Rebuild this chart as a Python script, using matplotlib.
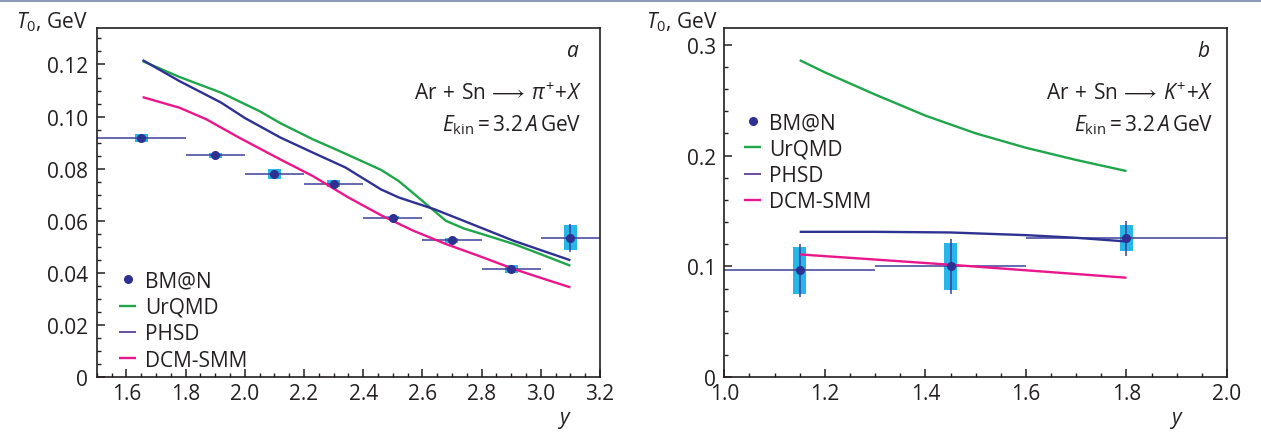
import matplotlib
matplotlib.use("Agg")
import matplotlib.pyplot as plt
from matplotlib.ticker import MultipleLocator, FixedLocator, FixedFormatter
from matplotlib.lines import Line2D

plt.rcParams["font.family"] = ["Open Sans", "DejaVu Sans"]
plt.rcParams["mathtext.fontset"] = "custom"
plt.rcParams["mathtext.rm"] = "Open Sans"
plt.rcParams["mathtext.it"] = "Open Sans:italic"
plt.rcParams["mathtext.bf"] = "Open Sans:bold"
plt.rcParams["mathtext.fallback"] = "stixsans"

# --- panel a: pi+ ---
pi_y = [1.65, 1.9, 2.1, 2.3, 2.5, 2.7, 2.9, 3.1]
pi_ylo = [1.5, 1.8, 2.0, 2.2, 2.4, 2.6, 2.8, 3.0]
pi_yhi = [1.8, 2.0, 2.2, 2.4, 2.6, 2.8, 3.0, 3.2]
pi_T = [0.0919, 0.0851, 0.0780, 0.0743, 0.0613, 0.0526, 0.0415, 0.0535]
pi_stat = [0.001, 0.0008, 0.001, 0.001, 0.0008, 0.001, 0.001, 0.0055]
pi_sys = [0.0016, 0.0011, 0.0018, 0.0013, 0.0005, 0.001, 0.0015, 0.0048]

pi_urqmd_x = [1.655, 1.78, 1.92, 2.05, 2.12, 2.23, 2.32, 2.46, 2.52, 2.58, 2.64, 2.68, 2.74, 2.82, 2.91, 3.0, 3.1]
pi_urqmd_T = [0.1213, 0.1152, 0.1092, 0.1021, 0.0975, 0.0913, 0.0868, 0.0796, 0.0753, 0.0696, 0.0638, 0.0600, 0.0571, 0.0543, 0.0511, 0.0472, 0.0428]
pi_phsd_x = [1.655, 1.78, 1.92, 2.0, 2.12, 2.23, 2.34, 2.46, 2.52, 2.64, 2.74, 2.91, 3.1]
pi_phsd_T = [0.1217, 0.1136, 0.1054, 0.0995, 0.0920, 0.0862, 0.0805, 0.0721, 0.0690, 0.0645, 0.0600, 0.0523, 0.0449]
pi_dcm_x = [1.655, 1.78, 1.87, 1.98, 2.12, 2.23, 2.35, 2.46, 2.57, 2.68, 2.79, 2.91, 3.02, 3.1]
pi_dcm_T = [0.1075, 0.1034, 0.0990, 0.0920, 0.0836, 0.0772, 0.0690, 0.0622, 0.0562, 0.0511, 0.0466, 0.0415, 0.0374, 0.0345]

# --- panel b: K+ ---
k_y = [1.15, 1.45, 1.8]
k_ylo = [1.0, 1.3, 1.6]
k_yhi = [1.3, 1.6, 2.0]
k_T = [0.0964, 0.100, 0.1255]
k_stat = [0.0236, 0.0249, 0.0159]
k_sys = [0.0212, 0.0212, 0.0117]

k_urqmd_x = [1.15, 1.2, 1.3, 1.4, 1.5, 1.6, 1.7, 1.8]
k_urqmd_T = [0.286, 0.275, 0.255, 0.236, 0.220, 0.207, 0.196, 0.186]
k_phsd_x = [1.15, 1.3, 1.45, 1.6, 1.7, 1.8]
k_phsd_T = [0.1312, 0.1312, 0.1306, 0.1282, 0.1258, 0.1225]
k_dcm_x = [1.15, 1.3, 1.45, 1.6, 1.8]
k_dcm_T = [0.1108, 0.1062, 0.1015, 0.0965, 0.0898]

c_green = "#1fa64b"
c_navy = "#2e3192"
c_pink = "#ec168c"
c_cyan = "#27b6ea"
c_bar = "#3c4098"
c_frame = "#231f20"
FS = 15

W, H = 1261, 435
fig = plt.figure(figsize=(W / 100, H / 100), dpi=100)
axa = fig.add_axes([96.7 / W, 1 - 378.3 / H, 503.3 / W, 349.3 / H])
axb = fig.add_axes([724.3 / W, 1 - 378.3 / H, 502.7 / W, 349.3 / H])


def draw(ax, y, ylo, yhi, T, stat, sys, box_hw, curves):
    ax.bar(y, [2 * s for s in sys], bottom=[t - s for t, s in zip(T, sys)],
           width=2 * box_hw, color=c_cyan, linewidth=0, zorder=1)
    xerr = [[a - b for a, b in zip(y, ylo)], [b - a for a, b in zip(y, yhi)]]
    ax.errorbar(y, T, xerr=xerr, yerr=stat, fmt="none", ecolor=c_bar,
                elinewidth=1.1, capsize=0, zorder=2)
    for cx, cT, col, lab in curves:
        ax.plot(cx, cT, color=col, lw=1.7, label=lab, zorder=3,
                solid_capstyle="butt")
    ax.plot(y, T, "o", color=c_navy, ms=5.5, label="BM@N", zorder=4)
    for s in ax.spines.values():
        s.set_color(c_frame)
        s.set_linewidth(1.2)
    ax.tick_params(which="both", direction="in", top=False, right=False,
                   color=c_frame, labelsize=FS, labelcolor=c_frame)
    ax.tick_params(which="major", length=6, width=1.1)
    ax.tick_params(which="minor", length=3.2, width=1.0)
    ax.tick_params(axis="y", pad=6)
    ax.tick_params(axis="x", pad=4)


draw(axa, pi_y, pi_ylo, pi_yhi, pi_T, pi_stat, pi_sys, 0.022,
     [(pi_urqmd_x, pi_urqmd_T, c_green, "UrQMD"),
      (pi_phsd_x, pi_phsd_T, c_navy, "PHSD"),
      (pi_dcm_x, pi_dcm_T, c_pink, "DCM-SMM")])
draw(axb, k_y, k_ylo, k_yhi, k_T, k_stat, k_sys, 0.013,
     [(k_urqmd_x, k_urqmd_T, c_green, "UrQMD"),
      (k_phsd_x, k_phsd_T, c_navy, "PHSD"),
      (k_dcm_x, k_dcm_T, c_pink, "DCM-SMM")])

axa.set_xlim(1.5, 3.2)
axa.set_ylim(0, 0.134)
a_xt = [1.6, 1.8, 2.0, 2.2, 2.4, 2.6, 2.8, 3.0, 3.2]
axa.xaxis.set_major_locator(FixedLocator(a_xt))
axa.xaxis.set_major_formatter(FixedFormatter([f"{v:.1f}" for v in a_xt]))
axa.xaxis.set_minor_locator(MultipleLocator(0.05))
a_yt = [0, 0.02, 0.04, 0.06, 0.08, 0.10, 0.12]
axa.yaxis.set_major_locator(FixedLocator(a_yt))
axa.yaxis.set_major_formatter(FixedFormatter(["0"] + [f"{v:.2f}" for v in a_yt[1:]]))
axa.yaxis.set_minor_locator(MultipleLocator(0.005))

axb.set_xlim(1.0, 2.0)
axb.set_ylim(0, 0.315)
b_xt = [1.0, 1.2, 1.4, 1.6, 1.8, 2.0]
axb.xaxis.set_major_locator(FixedLocator(b_xt))
axb.xaxis.set_major_formatter(FixedFormatter([f"{v:.1f}" for v in b_xt]))
axb.xaxis.set_minor_locator(MultipleLocator(0.05))
b_yt = [0, 0.1, 0.2, 0.3]
axb.yaxis.set_major_locator(FixedLocator(b_yt))
axb.yaxis.set_major_formatter(FixedFormatter(["0", "0.1", "0.2", "0.3"]))
axb.yaxis.set_minor_locator(MultipleLocator(0.02))

for ax, anchor, tpad in [(axa, (0.045, 0.306), 0.45), (axb, (0.040, 0.759), 0.4)]:
    h, l = ax.get_legend_handles_labels()
    order = [l.index(n) for n in ["BM@N", "UrQMD", "PHSD", "DCM-SMM"]]
    leg = ax.legend([h[i] for i in order], [l[i] for i in order],
                    loc="upper left", bbox_to_anchor=anchor, frameon=False,
                    fontsize=FS, handlelength=0.8, handletextpad=tpad,
                    labelspacing=0.26, borderpad=0, borderaxespad=0)
    for t in leg.get_texts():
        t.set_color(c_frame)
    leg.legend_handles[2].set_color("#6a4c9c")
    leg.legend_handles[2].set_linewidth(1.4)

txt = dict(fontsize=FS, color=c_frame)
axa.text(0.945, 0.920, "$a$", transform=axa.transAxes, ha="center", va="baseline", **txt)
axb.text(0.953, 0.920, "$b$", transform=axb.transAxes, ha="center", va="baseline", **txt)
axa.text(0.963, 0.797, r"$\mathrm{Ar}\,+\,\mathrm{Sn}\,\longrightarrow\,\pi^{+}\!+\!X$",
         transform=axa.transAxes, ha="right", va="baseline", **txt)
axa.text(0.963, 0.708, r"$E_{\mathrm{kin}} = 3.2\,A\,\mathrm{GeV}$",
         transform=axa.transAxes, ha="right", va="baseline", **txt)
axb.text(0.972, 0.797, r"$\mathrm{Ar}\,+\,\mathrm{Sn}\,\longrightarrow\,K^{+}\!+\!X$",
         transform=axb.transAxes, ha="right", va="baseline", **txt)
axb.text(0.972, 0.708, r"$E_{\mathrm{kin}} = 3.2\,A\,\mathrm{GeV}$",
         transform=axb.transAxes, ha="right", va="baseline", **txt)

fig.text(87.5 / W, 1 - 28.5 / H, r"$T_0$, GeV", ha="right", va="baseline", **txt)
fig.text(717.5 / W, 1 - 28.5 / H, r"$T_0$, GeV", ha="right", va="baseline", **txt)
fig.text(564.5 / W, 1 - 424 / H, "$y$", ha="center", va="baseline", **txt)
fig.text(1176.5 / W, 1 - 424 / H, "$y$", ha="center", va="baseline", **txt)

fig.add_artist(Line2D([0, 1], [1 - 1.2 / H, 1 - 1.2 / H], transform=fig.transFigure,
                      color="#8d9ab6", lw=2.2))

fig.savefig("out.png", dpi=100)
